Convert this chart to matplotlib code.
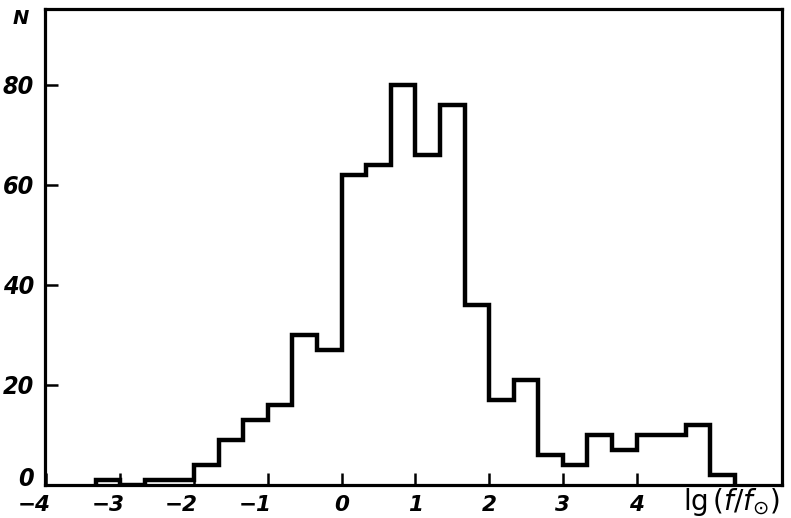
import numpy as np
import matplotlib.pyplot as plt
from matplotlib import font_manager
from matplotlib.transforms import ScaledTranslation

# bin edges go in steps of 1/3 in lg(f/f_sun)
edges = np.arange(-10, 17) / 3.0
counts = [1, 0, 1, 1,            # -10/3 .. -2
          4, 9, 13, 16, 30, 27,  # -2 .. 0
          62, 64, 80, 66, 76, 36,  # 0 .. 2
          17, 21, 6, 4, 10, 7,     # 2 .. 4
          10, 10, 12, 2]           # 4 .. 16/3

xticks = [-4, -3, -2, -1, 0, 1, 2, 3, 4]
yticks = [0, 20, 40, 60, 80]

# a condensed face fits the narrow y numbers better, if there is one
fp = font_manager.FontProperties(family='DejaVu Sans', stretch='condensed',
                                 weight='bold', style='italic')
condensed = 'Condensed' in font_manager.findfont(fp)
ysize = 18 if condensed else 17

fig = plt.figure(figsize=(7.91, 5.18), dpi=100)
ax = fig.add_axes([45 / 791, 33 / 518, 737 / 791, 476 / 518])

ax.stairs(counts, edges, baseline=0, color='black', linewidth=3.2, zorder=3)

ax.set_xlim(-4.02, 5.97)
ax.set_ylim(0, 95.2)

for s in ax.spines.values():
    s.set_linewidth(2.3)

ax.set_xticks(xticks)
ax.set_xticklabels([f'{v}'.replace('-', '\u2212') for v in xticks],
                   fontsize=15.5, fontweight='bold', style='italic')
ax.set_yticks(yticks)
ax.set_yticklabels([str(v) for v in yticks], fontsize=ysize,
                   fontweight='bold', style='italic',
                   fontstretch='condensed' if condensed else 'normal')
ax.tick_params(axis='both', direction='in', length=9, width=1.8)
ax.tick_params(axis='x', pad=7)
ax.tick_params(axis='y', pad=8)

# negative labels hang their minus sign to the left of the tick
for v, lab in zip(xticks, ax.get_xticklabels()):
    if v < 0:
        lab.set_transform(lab.get_transform() +
                          ScaledTranslation(-9 / 72, 0, fig.dpi_scale_trans))
# the zero on the y axis sits a little above the baseline
ylab0 = ax.get_yticklabels()[0]
ylab0.set_transform(ylab0.get_transform() +
                    ScaledTranslation(0, 6 / 72, fig.dpi_scale_trans))

ax.text(-4.345, 93.2, 'N', fontsize=14, fontweight='bold', style='italic',
        ha='center', va='center', clip_on=False)
ax.text(5.28, -3.5, r'lg$\,(f/f_{\odot})$', fontsize=20, ha='center', va='center',
        clip_on=False)

fig.savefig('out.png', dpi=100)
